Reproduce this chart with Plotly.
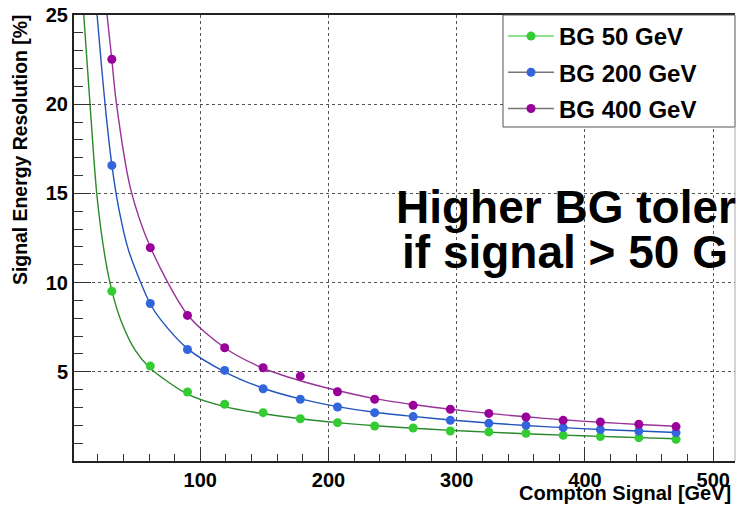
import plotly.graph_objects as go

# ---------------- data ----------------
signal_gev = [31, 61, 90, 119, 149, 178, 207, 236, 266, 295, 325, 354, 383, 412, 442, 471]

res_bg50 = [9.52, 5.32, 3.87, 3.18, 2.71, 2.37, 2.15, 1.96, 1.85, 1.68, 1.63, 1.55, 1.44, 1.37, 1.31, 1.22]
res_bg200 = [16.57, 8.83, 6.25, 5.08, 4.05, 3.46, 3.03, 2.71, 2.49, 2.28, 2.11, 2.00, 1.87, 1.76, 1.68, 1.59]
res_bg400 = [22.52, 11.96, 8.16, 6.35, 5.23, 4.76, 3.88, 3.46, 3.12, 2.90, 2.67, 2.47, 2.28, 2.19, 2.06, 1.93]

# fitted curves
fit50_x = [9.1, 13.7, 19.5, 26, 31, 37.7, 49.3, 61, 90, 119, 149, 178, 207, 236, 266, 295, 325, 354, 383, 412, 442, 471]
fit50_y = [25, 20.3, 14.8, 11.3, 9.55, 7.95, 6.2, 5.2, 3.75, 3.05, 2.65, 2.37, 2.15, 1.98, 1.84, 1.72, 1.62, 1.53, 1.45, 1.38, 1.31, 1.25]

fit200_x = [19.5, 23, 26.7, 31, 36.3, 44.1, 61, 68.8, 90, 119, 149, 178, 207, 236, 266, 295, 325, 354, 383, 412, 442, 471]
fit200_y = [25, 22.1, 19.3, 16.6, 14.2, 11.8, 8.8, 7.95, 6.3, 5.0, 4.08, 3.48, 3.05, 2.73, 2.5, 2.3, 2.13, 1.99, 1.87, 1.77, 1.68, 1.6]

fit400_x = [27.3, 31, 34.3, 45.5, 61, 90, 119, 149, 178, 207, 236, 266, 295, 325, 354, 383, 412, 442, 471]
fit400_y = [25, 22.5, 20.2, 15.3, 12.0, 8.2, 6.35, 5.2, 4.5, 3.95, 3.5, 3.17, 2.9, 2.67, 2.48, 2.31, 2.17, 2.05, 1.95]

series_names = ["BG 50 GeV", "BG 200 GeV", "BG 400 GeV"]
x_ticks = [100, 200, 300, 400, 500]
y_ticks = [5, 10, 15, 20, 25]

# ---------------- styling ----------------
FONT = "Liberation Sans, Arial, Helvetica, sans-serif"
point_colors = ["#33cc33", "#3366dd", "#990099"]
fit_colors = ["#2a8a2a", "#2255bb", "#993399"]
legend_line_colors = ["#66dd66", "#777777", "#777777"]

fig = go.Figure()

fits = [(fit50_x, fit50_y), (fit200_x, fit200_y), (fit400_x, fit400_y)]
values = [res_bg50, res_bg200, res_bg400]

for i in range(3):
    fx, fy = fits[i]
    fig.add_trace(go.Scatter(
        x=fx, y=fy, mode="lines",
        line=dict(color=fit_colors[i], width=1.4, shape="spline", smoothing=0.8),
        showlegend=False, hoverinfo="skip",
    ))
    fig.add_trace(go.Scatter(
        x=signal_gev, y=values[i], mode="markers",
        marker=dict(color=point_colors[i], size=9, line=dict(width=0)),
        showlegend=False, name=series_names[i],
    ))

# legend-only entries
for i in range(3):
    fig.add_trace(go.Scatter(
        x=[None], y=[None], mode="lines+markers", name=series_names[i],
        line=dict(color=legend_line_colors[i], width=1.5),
        marker=dict(color=point_colors[i], size=9),
        legendgroup=f"g{i}",
    ))

L, R, T, B = 74, 1, 15, 45
W, H = 736, 506
pw, ph = W - L - R, H - T - B

def px_x(p):
    return (p - L) / pw

def px_y(p):
    return (H - B - p) / ph

fig.update_layout(
    width=W, height=H,
    margin=dict(l=L, r=R, t=T, b=B),
    paper_bgcolor="white", plot_bgcolor="white",
    font=dict(family=FONT, color="black"),
    showlegend=True,
    legend=dict(
        x=px_x(503), xanchor="left", y=px_y(14), yanchor="top",
        bgcolor="rgba(0,0,0,0)", borderwidth=0,
        font=dict(family=FONT, size=24, weight="bold", color="black"),
        traceorder="grouped", tracegroupgap=2, itemwidth=46,
    ),
    xaxis=dict(
        range=[1.5, 517], tickmode="array", tickvals=x_ticks,
        ticks="inside", ticklen=14, tickwidth=1, tickcolor="#333",
        minor=dict(dtick=20, tick0=0, ticks="inside", ticklen=7, tickcolor="#333", showgrid=False),
        showgrid=True, gridcolor="#555", griddash="dot", gridwidth=1,
        showline=True, linecolor="#222", linewidth=2, mirror=True,
        tickfont=dict(family=FONT, size=20, weight="bold", color="black"),
        zeroline=False,
    ),
    yaxis=dict(
        range=[0.001, 25], tickmode="array", tickvals=y_ticks,
        ticks="inside", ticklen=17, tickwidth=1, tickcolor="#333",
        minor=dict(dtick=1, tick0=0, ticks="inside", ticklen=9, tickcolor="#333", showgrid=False),
        showgrid=True, gridcolor="#555", griddash="dot", gridwidth=1,
        showline=True, linecolor="#222", linewidth=2,
        tickfont=dict(family=FONT, size=20, weight="bold", color="black"),
        zeroline=False,
    ),
    shapes=[
        dict(type="rect", xref="paper", yref="paper",
             x0=px_x(503), x1=1.0, y0=px_y(127), y1=1.0,
             line=dict(color="#555", width=1), fillcolor="white", layer="above"),
        dict(type="line", xref="paper", yref="paper", x0=1, x1=1, y0=0, y1=1,
             line=dict(color="#aaa", width=1)),
    ],
    annotations=[
        dict(text="Compton Signal [GeV]", xref="paper", yref="paper",
             x=px_x(733), xanchor="right", y=px_y(493), yanchor="middle",
             showarrow=False, font=dict(family=FONT, size=20, weight="bold", color="black")),
        dict(text="Signal Energy Resolution [%]", xref="paper", yref="paper",
             x=px_x(20), xanchor="center", y=px_y(13), yanchor="top", textangle=-90,
             showarrow=False, font=dict(family=FONT, size=19.4, weight="bold", color="black")),
        dict(text="Higher BG toler", xref="paper", yref="paper",
             x=px_x(394), xanchor="left", y=px_y(207), yanchor="middle",
             showarrow=False, font=dict(family=FONT, size=46, weight="bold", color="black")),
        dict(text="if signal > 50 G", xref="paper", yref="paper",
             x=px_x(400), xanchor="left", y=px_y(252), yanchor="middle",
             showarrow=False, font=dict(family=FONT, size=46, weight="bold", color="black")),
    ],
)

fig.write_html("out.html", config={"displayModeBar": False})

# remove the default page margin so the 736x506 figure fills the window exactly
with open("out.html", "r", encoding="utf-8") as f:
    html = f.read()
html = html.replace("<head>", "<head><style>html,body{margin:0;padding:0;overflow:hidden;}</style>", 1)
with open("out.html", "w", encoding="utf-8") as f:
    f.write(html)
